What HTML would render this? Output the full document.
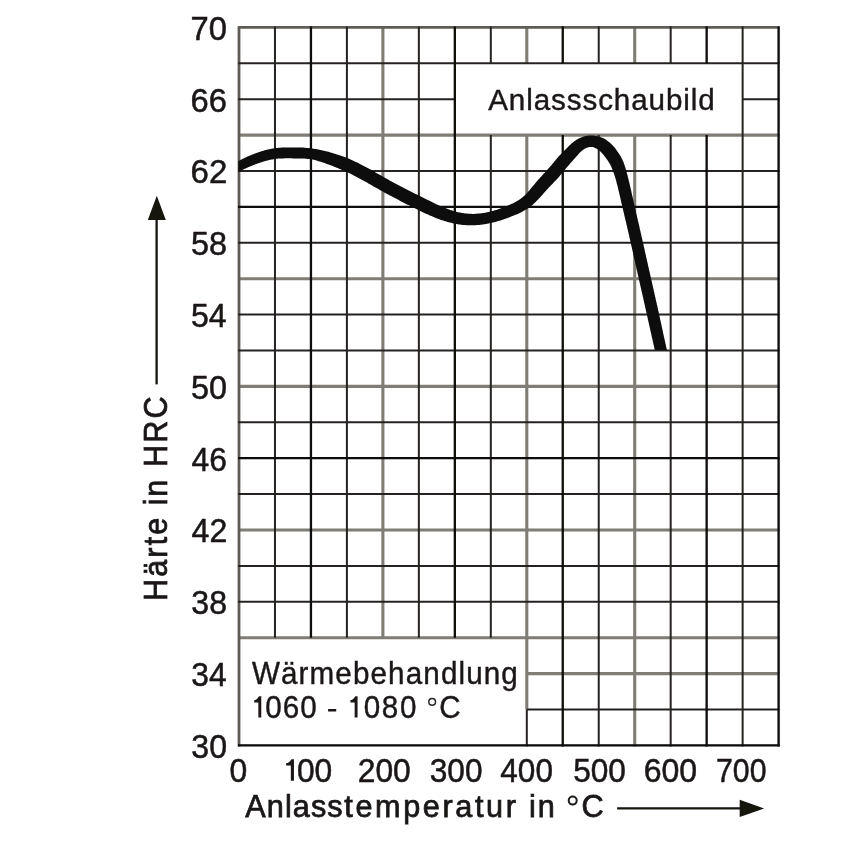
<!DOCTYPE html>
<html><head><meta charset="utf-8"><title>Anlassschaubild</title>
<style>
html,body{margin:0;padding:0;background:#fff;}
body{width:861px;height:865px;overflow:hidden;}
svg{display:block;}
text{font-family:"Liberation Sans",sans-serif;fill:#1a1716;stroke:#1a1716;}
</style></head><body>
<svg width="861" height="865" viewBox="0 0 861 865">
<defs><filter id="soft" x="0" y="0" width="861" height="865" filterUnits="userSpaceOnUse"><feGaussianBlur stdDeviation="0.55"/></filter></defs>
<rect width="861" height="865" fill="#fff"/>
<g filter="url(#soft)">
<g id="grid">
<line x1="382.89" y1="26.40" x2="382.89" y2="637.70" stroke="#7f7d75" stroke-width="3.1"/>
<line x1="526.79" y1="26.40" x2="526.79" y2="63.30" stroke="#7f7d75" stroke-width="3.1"/>
<line x1="526.79" y1="135.10" x2="526.79" y2="709.50" stroke="#7f7d75" stroke-width="3.1"/>
<line x1="634.71" y1="26.40" x2="634.71" y2="63.30" stroke="#7f7d75" stroke-width="3.1"/>
<line x1="634.71" y1="135.10" x2="634.71" y2="746.40" stroke="#7f7d75" stroke-width="3.1"/>
<line x1="238.00" y1="135.10" x2="779.60" y2="135.10" stroke="#7f7d75" stroke-width="3.1"/>
<line x1="238.00" y1="278.70" x2="779.60" y2="278.70" stroke="#7f7d75" stroke-width="3.1"/>
<line x1="238.00" y1="386.40" x2="779.60" y2="386.40" stroke="#7f7d75" stroke-width="3.1"/>
<line x1="238.00" y1="530.00" x2="779.60" y2="530.00" stroke="#7f7d75" stroke-width="3.1"/>
<line x1="238.00" y1="637.70" x2="779.60" y2="637.70" stroke="#7f7d75" stroke-width="3.1"/>
<line x1="526.79" y1="673.60" x2="779.60" y2="673.60" stroke="#7f7d75" stroke-width="3.1"/>
<line x1="239.00" y1="26.40" x2="239.00" y2="746.40" stroke="#5e5c55" stroke-width="2.8"/>
<line x1="238.00" y1="27.40" x2="779.60" y2="27.40" stroke="#5e5c55" stroke-width="2.8"/>
<line x1="274.97" y1="26.40" x2="274.97" y2="637.70" stroke="#262321" stroke-width="2.0"/>
<line x1="346.92" y1="26.40" x2="346.92" y2="637.70" stroke="#262321" stroke-width="2.0"/>
<line x1="418.87" y1="26.40" x2="418.87" y2="637.70" stroke="#262321" stroke-width="2.0"/>
<line x1="490.81" y1="26.40" x2="490.81" y2="63.30" stroke="#262321" stroke-width="2.0"/>
<line x1="490.81" y1="135.10" x2="490.81" y2="637.70" stroke="#262321" stroke-width="2.0"/>
<line x1="526.79" y1="709.50" x2="526.79" y2="746.40" stroke="#262321" stroke-width="2.0"/>
<line x1="598.73" y1="26.40" x2="598.73" y2="63.30" stroke="#262321" stroke-width="2.0"/>
<line x1="598.73" y1="135.10" x2="598.73" y2="746.40" stroke="#262321" stroke-width="2.0"/>
<line x1="670.68" y1="26.40" x2="670.68" y2="63.30" stroke="#262321" stroke-width="2.0"/>
<line x1="670.68" y1="135.10" x2="670.68" y2="746.40" stroke="#262321" stroke-width="2.0"/>
<line x1="742.63" y1="26.40" x2="742.63" y2="746.40" stroke="#262321" stroke-width="2.0"/>
<line x1="238.00" y1="63.30" x2="779.60" y2="63.30" stroke="#262321" stroke-width="2.0"/>
<line x1="238.00" y1="99.20" x2="454.84" y2="99.20" stroke="#262321" stroke-width="2.0"/>
<line x1="742.63" y1="99.20" x2="779.60" y2="99.20" stroke="#262321" stroke-width="2.0"/>
<line x1="238.00" y1="171.00" x2="779.60" y2="171.00" stroke="#262321" stroke-width="2.0"/>
<line x1="238.00" y1="242.80" x2="779.60" y2="242.80" stroke="#262321" stroke-width="2.0"/>
<line x1="238.00" y1="314.60" x2="779.60" y2="314.60" stroke="#262321" stroke-width="2.0"/>
<line x1="238.00" y1="350.50" x2="779.60" y2="350.50" stroke="#262321" stroke-width="2.0"/>
<line x1="238.00" y1="422.30" x2="779.60" y2="422.30" stroke="#262321" stroke-width="2.0"/>
<line x1="238.00" y1="494.10" x2="779.60" y2="494.10" stroke="#262321" stroke-width="2.0"/>
<line x1="238.00" y1="565.90" x2="779.60" y2="565.90" stroke="#262321" stroke-width="2.0"/>
<line x1="238.00" y1="601.80" x2="779.60" y2="601.80" stroke="#262321" stroke-width="2.0"/>
<line x1="526.79" y1="709.50" x2="779.60" y2="709.50" stroke="#262321" stroke-width="2.0"/>
<line x1="310.95" y1="26.40" x2="310.95" y2="637.70" stroke="#090807" stroke-width="2.3"/>
<line x1="454.84" y1="26.40" x2="454.84" y2="637.70" stroke="#090807" stroke-width="2.3"/>
<line x1="562.76" y1="26.40" x2="562.76" y2="63.30" stroke="#090807" stroke-width="2.3"/>
<line x1="562.76" y1="135.10" x2="562.76" y2="746.40" stroke="#090807" stroke-width="2.3"/>
<line x1="706.65" y1="26.40" x2="706.65" y2="63.30" stroke="#090807" stroke-width="2.3"/>
<line x1="706.65" y1="135.10" x2="706.65" y2="746.40" stroke="#090807" stroke-width="2.3"/>
<line x1="778.60" y1="26.40" x2="778.60" y2="746.40" stroke="#090807" stroke-width="2.3"/>
<line x1="238.00" y1="206.90" x2="779.60" y2="206.90" stroke="#090807" stroke-width="2.3"/>
<line x1="238.00" y1="458.20" x2="779.60" y2="458.20" stroke="#090807" stroke-width="2.3"/>
<line x1="238.00" y1="745.40" x2="779.60" y2="745.40" stroke="#090807" stroke-width="2.3"/>
</g>
<g id="boxes"></g>
<g id="curve"><clipPath id="cc"><rect x="238.40" y="27.40" width="539.60" height="322.50"/></clipPath>
<polygon clip-path="url(#cc)" points="230.2,176.0 231.2,175.5 232.2,175.0 233.1,174.5 234.1,174.0 235.1,173.5 236.0,173.0 237.0,172.6 238.0,172.1 238.9,171.6 239.9,171.1 240.8,170.6 241.8,170.2 242.8,169.7 243.7,169.3 244.7,168.8 245.7,168.4 246.6,167.9 247.6,167.5 248.6,167.1 249.5,166.7 250.5,166.3 251.5,165.9 252.5,165.5 253.5,165.1 254.5,164.7 255.4,164.3 256.4,164.0 257.4,163.6 258.4,163.3 259.4,162.9 260.4,162.6 261.4,162.2 262.4,161.9 263.4,161.6 264.4,161.3 265.4,161.0 266.4,160.8 267.4,160.5 268.4,160.3 269.4,160.0 270.4,159.8 271.4,159.6 272.4,159.4 273.4,159.2 274.3,159.1 275.3,159.0 276.3,158.8 277.3,158.7 278.3,158.6 279.3,158.6 280.3,158.5 281.4,158.4 282.4,158.4 283.4,158.4 284.5,158.3 285.5,158.3 286.6,158.3 287.7,158.3 288.7,158.3 289.8,158.3 290.9,158.3 292.0,158.3 293.1,158.4 294.2,158.4 295.3,158.4 296.3,158.4 297.4,158.4 298.5,158.4 299.6,158.4 300.6,158.5 301.7,158.5 302.7,158.5 303.7,158.6 304.8,158.6 305.8,158.7 306.8,158.8 307.8,158.9 308.8,159.0 309.8,159.1 310.8,159.3 311.8,159.4 312.8,159.6 313.8,159.8 314.8,160.1 315.8,160.3 316.7,160.6 317.7,160.9 318.7,161.2 319.7,161.5 320.7,161.8 321.7,162.1 322.7,162.5 323.7,162.8 324.7,163.1 325.7,163.5 326.7,163.9 327.7,164.2 328.7,164.6 329.7,165.0 330.7,165.3 331.7,165.7 332.7,166.1 333.7,166.5 334.7,166.9 335.7,167.3 336.7,167.7 337.6,168.1 338.6,168.5 339.6,168.9 340.5,169.3 341.5,169.7 342.5,170.1 343.4,170.5 344.4,170.9 345.3,171.4 346.3,171.8 347.2,172.2 348.2,172.7 349.1,173.1 350.1,173.6 351.0,174.0 352.0,174.5 352.9,175.0 353.8,175.5 354.8,176.0 355.7,176.4 356.7,176.9 357.6,177.4 358.5,177.9 359.5,178.5 360.4,179.0 361.4,179.5 362.3,180.0 363.2,180.5 364.2,181.0 365.1,181.6 366.1,182.1 367.0,182.6 368.0,183.2 368.9,183.7 369.9,184.3 370.8,184.8 371.7,185.3 372.7,185.9 373.6,186.4 374.6,187.0 375.6,187.5 376.5,188.1 377.5,188.6 378.4,189.1 379.4,189.7 380.4,190.2 381.3,190.8 382.3,191.3 383.3,191.8 384.2,192.4 385.2,192.9 386.2,193.4 387.1,194.0 388.1,194.5 389.1,195.0 390.0,195.5 391.0,196.0 392.0,196.6 393.0,197.1 393.9,197.6 394.9,198.1 395.9,198.6 396.9,199.1 397.8,199.6 398.8,200.1 399.8,200.7 400.8,201.2 401.7,201.7 402.7,202.2 403.7,202.7 404.7,203.2 405.6,203.7 406.6,204.2 407.6,204.7 408.6,205.1 409.6,205.6 410.5,206.1 411.5,206.6 412.5,207.1 413.5,207.6 414.4,208.1 415.4,208.6 416.4,209.1 417.4,209.6 418.4,210.1 419.4,210.5 420.3,211.0 421.3,211.5 422.3,212.0 423.3,212.4 424.3,212.9 425.4,213.4 426.4,213.9 427.4,214.3 428.4,214.8 429.4,215.2 430.5,215.7 431.5,216.1 432.5,216.6 433.6,217.0 434.6,217.4 435.7,217.9 436.7,218.3 437.8,218.7 438.9,219.1 439.9,219.5 441.0,219.9 442.1,220.2 443.2,220.6 444.3,220.9 445.4,221.3 446.5,221.6 447.6,221.9 448.7,222.3 449.9,222.5 451.0,222.8 452.1,223.1 453.3,223.4 454.4,223.6 455.6,223.8 456.7,224.1 457.9,224.3 459.1,224.4 460.2,224.6 461.4,224.8 462.6,224.9 463.7,225.0 464.9,225.1 466.1,225.2 467.3,225.3 468.5,225.3 469.6,225.3 470.8,225.3 472.0,225.3 473.2,225.3 474.4,225.3 475.5,225.2 476.7,225.1 477.9,225.0 479.1,224.9 480.2,224.8 481.4,224.7 482.6,224.5 483.7,224.3 484.9,224.2 486.0,224.0 487.2,223.8 488.3,223.5 489.4,223.3 490.6,223.1 491.7,222.8 492.8,222.5 493.9,222.2 495.0,222.0 496.1,221.7 497.2,221.3 498.3,221.0 499.4,220.7 500.5,220.4 501.6,220.0 502.7,219.7 503.8,219.3 504.8,218.9 505.9,218.5 507.0,218.2 508.0,217.8 509.1,217.4 510.2,217.0 511.2,216.6 512.3,216.1 513.3,215.7 514.4,215.3 515.5,214.8 516.5,214.4 517.6,213.9 518.7,213.4 519.8,212.9 520.8,212.4 521.9,211.9 522.9,211.3 524.0,210.7 525.0,210.1 526.1,209.5 527.1,208.9 528.1,208.2 529.1,207.5 530.1,206.8 531.1,206.0 532.1,205.2 533.0,204.4 533.9,203.6 534.8,202.8 535.7,202.0 536.5,201.1 537.3,200.3 538.1,199.5 538.9,198.6 539.7,197.8 540.5,196.9 541.2,196.1 542.0,195.2 542.7,194.4 543.4,193.6 544.1,192.8 544.8,192.0 545.5,191.2 546.2,190.4 546.9,189.6 547.7,188.9 548.4,188.1 549.1,187.3 549.9,186.5 550.6,185.8 551.3,185.0 552.1,184.2 552.9,183.4 553.6,182.6 554.4,181.8 555.1,181.0 555.9,180.2 556.7,179.4 557.4,178.6 558.2,177.7 558.9,176.9 559.7,176.0 560.4,175.1 561.2,174.3 561.9,173.4 562.6,172.5 563.3,171.7 564.0,170.8 564.7,170.0 565.4,169.2 566.0,168.3 566.7,167.5 567.4,166.8 568.0,166.0 568.7,165.2 569.4,164.4 570.1,163.6 570.8,162.8 571.5,162.0 572.2,161.2 572.9,160.4 573.7,159.6 574.4,158.8 575.1,157.9 575.9,157.1 576.6,156.3 577.3,155.5 578.0,154.7 578.6,154.0 579.3,153.2 579.9,152.6 580.6,151.9 581.3,151.3 581.9,150.7 582.6,150.2 583.3,149.7 584.0,149.2 584.7,148.8 585.4,148.4 586.1,148.0 586.9,147.7 587.6,147.4 588.4,147.2 589.1,147.0 589.8,146.9 590.5,146.9 591.2,146.9 592.0,147.0 592.7,147.1 593.5,147.3 594.2,147.6 594.9,147.9 595.7,148.3 596.4,148.6 597.1,149.1 597.8,149.5 598.5,150.0 599.1,150.4 599.8,151.0 600.4,151.5 601.0,152.1 601.6,152.7 602.2,153.4 602.8,154.0 603.4,154.8 604.0,155.5 604.6,156.2 605.2,157.0 605.8,157.8 606.4,158.7 607.0,159.5 607.5,160.3 608.1,161.1 608.6,161.9 609.1,162.7 609.6,163.5 610.0,164.3 610.5,165.1 610.9,166.0 611.3,166.8 611.7,167.7 612.0,168.6 612.4,169.5 612.8,170.4 613.1,171.4 613.5,172.3 613.8,173.3 614.1,174.3 614.5,175.3 614.8,176.3 615.1,177.3 615.4,178.3 615.7,179.3 616.0,180.3 616.3,181.3 616.6,182.4 616.8,183.4 617.1,184.5 617.4,185.5 617.6,186.5 617.9,187.6 618.1,188.6 618.4,189.7 618.6,190.7 618.9,191.8 619.1,192.8 619.4,193.9 619.6,195.0 619.9,196.0 620.1,197.1 620.4,198.1 620.6,199.2 620.8,200.3 621.1,201.3 621.3,202.4 621.6,203.4 621.8,204.5 622.1,205.6 622.3,206.6 622.6,207.7 622.8,208.8 623.1,209.8 623.3,210.9 623.6,212.0 623.8,213.0 624.1,214.1 624.3,215.2 624.6,216.2 624.8,217.3 625.1,218.4 625.3,219.4 625.6,220.5 625.8,221.5 626.1,222.6 626.3,223.7 626.6,224.7 626.8,225.8 627.1,226.8 627.3,227.9 627.6,229.0 627.8,230.0 628.0,231.1 628.3,232.1 628.5,233.2 628.8,234.3 629.0,235.3 629.3,236.4 629.5,237.5 629.7,238.5 630.0,239.6 630.2,240.6 630.5,241.7 630.7,242.8 630.9,243.8 631.2,244.9 631.4,246.0 631.7,247.0 631.9,248.1 632.1,249.1 632.4,250.2 632.6,251.3 632.9,252.3 633.1,253.4 633.3,254.5 633.6,255.5 633.8,256.6 634.0,257.7 634.3,258.7 634.5,259.8 634.8,260.9 635.0,261.9 635.2,263.0 635.5,264.1 635.7,265.1 636.0,266.2 636.2,267.2 636.4,268.3 636.7,269.4 636.9,270.4 637.2,271.5 637.4,272.6 637.6,273.6 637.9,274.7 638.1,275.8 638.4,276.8 638.6,277.9 638.8,279.0 639.1,280.0 639.3,281.1 639.6,282.2 639.8,283.2 640.0,284.3 640.3,285.3 640.5,286.4 640.8,287.5 641.0,288.5 641.2,289.6 641.5,290.7 641.7,291.7 642.0,292.8 642.2,293.9 642.5,294.9 642.7,296.0 642.9,297.1 643.2,298.1 643.4,299.2 643.7,300.2 643.9,301.3 644.1,302.4 644.4,303.4 644.6,304.5 644.9,305.6 645.1,306.6 645.3,307.7 645.6,308.7 645.8,309.8 646.0,310.9 646.3,311.9 646.5,313.0 646.8,314.1 647.0,315.1 647.2,316.2 647.5,317.3 647.7,318.3 647.9,319.4 648.2,320.4 648.4,321.5 648.6,322.6 648.9,323.6 649.1,324.7 649.4,325.8 649.6,326.8 649.8,327.9 650.1,329.0 650.3,330.0 650.5,331.1 650.8,332.1 651.0,333.2 651.3,334.3 651.5,335.3 651.7,336.4 652.0,337.5 652.2,338.5 652.5,339.6 652.7,340.7 652.9,341.7 653.2,342.8 653.4,343.9 653.7,344.9 653.9,346.0 654.1,347.1 654.4,348.1 654.6,349.2 654.9,350.3 655.1,351.3 655.3,352.4 655.6,353.5 655.8,354.5 656.1,355.6 656.3,356.7 656.6,357.7 656.8,358.8 657.0,359.9 657.3,360.9 657.5,362.0 657.8,363.1 658.0,364.1 658.3,365.2 658.5,366.3 658.7,367.3 670.3,364.7 670.0,363.6 669.8,362.6 669.5,361.5 669.3,360.4 669.0,359.4 668.8,358.3 668.5,357.2 668.3,356.2 668.1,355.1 667.8,354.1 667.6,353.0 667.3,351.9 667.1,350.9 666.9,349.8 666.6,348.7 666.4,347.7 666.1,346.6 665.9,345.6 665.7,344.5 665.4,343.4 665.2,342.4 665.0,341.3 664.7,340.2 664.5,339.2 664.3,338.1 664.0,337.1 663.8,336.0 663.6,334.9 663.3,333.9 663.1,332.8 662.9,331.7 662.7,330.7 662.4,329.6 662.2,328.5 662.0,327.5 661.7,326.4 661.5,325.3 661.3,324.3 661.0,323.2 660.8,322.1 660.6,321.1 660.3,320.0 660.1,318.9 659.9,317.9 659.6,316.8 659.4,315.7 659.2,314.7 658.9,313.6 658.7,312.5 658.5,311.5 658.2,310.4 658.0,309.3 657.8,308.3 657.5,307.2 657.3,306.1 657.0,305.1 656.8,304.0 656.6,302.9 656.3,301.9 656.1,300.8 655.8,299.7 655.6,298.7 655.4,297.6 655.1,296.5 654.9,295.5 654.6,294.4 654.4,293.3 654.2,292.3 653.9,291.2 653.7,290.1 653.4,289.1 653.2,288.0 653.0,287.0 652.7,285.9 652.5,284.8 652.2,283.8 652.0,282.7 651.7,281.6 651.5,280.6 651.3,279.5 651.0,278.4 650.8,277.4 650.5,276.3 650.3,275.3 650.1,274.2 649.8,273.1 649.6,272.1 649.3,271.0 649.1,269.9 648.9,268.9 648.6,267.8 648.4,266.7 648.1,265.7 647.9,264.6 647.7,263.5 647.4,262.5 647.2,261.4 647.0,260.4 646.7,259.3 646.5,258.2 646.2,257.2 646.0,256.1 645.8,255.0 645.5,254.0 645.3,252.9 645.0,251.8 644.8,250.8 644.6,249.7 644.3,248.6 644.1,247.6 643.8,246.5 643.6,245.5 643.4,244.4 643.1,243.3 642.9,242.3 642.6,241.2 642.4,240.1 642.2,239.1 641.9,238.0 641.7,236.9 641.4,235.9 641.2,234.8 641.0,233.7 640.7,232.7 640.5,231.6 640.2,230.5 640.0,229.5 639.7,228.4 639.5,227.3 639.3,226.3 639.0,225.2 638.8,224.1 638.5,223.1 638.3,222.0 638.0,220.9 637.8,219.9 637.5,218.8 637.3,217.7 637.0,216.7 636.8,215.6 636.5,214.6 636.3,213.5 636.0,212.4 635.8,211.4 635.6,210.3 635.3,209.2 635.1,208.2 634.8,207.1 634.6,206.1 634.4,205.0 634.1,204.0 633.9,202.9 633.6,201.8 633.4,200.8 633.2,199.7 632.9,198.6 632.7,197.6 632.5,196.5 632.2,195.4 632.0,194.4 631.7,193.3 631.5,192.2 631.3,191.2 631.0,190.1 630.8,189.0 630.5,188.0 630.3,186.9 630.0,185.8 629.8,184.7 629.5,183.7 629.3,182.6 629.0,181.5 628.7,180.4 628.5,179.3 628.2,178.3 627.9,177.2 627.7,176.1 627.4,175.0 627.1,173.9 626.8,172.8 626.5,171.7 626.2,170.6 625.9,169.5 625.6,168.4 625.2,167.3 624.9,166.2 624.5,165.0 624.1,163.9 623.7,162.8 623.2,161.6 622.7,160.5 622.2,159.3 621.6,158.2 621.0,157.1 620.4,156.0 619.8,155.0 619.2,153.9 618.5,152.9 617.8,151.9 617.1,151.0 616.4,150.0 615.7,149.0 615.0,148.1 614.2,147.1 613.3,146.2 612.5,145.3 611.6,144.3 610.7,143.4 609.7,142.6 608.6,141.7 607.6,140.9 606.4,140.1 605.3,139.3 604.1,138.6 602.8,138.0 601.5,137.5 600.2,137.0 598.8,136.5 597.4,136.2 596.0,135.9 594.6,135.7 593.1,135.5 591.7,135.5 590.2,135.5 588.7,135.6 587.3,135.8 585.9,136.0 584.5,136.3 583.1,136.7 581.8,137.2 580.5,137.7 579.2,138.3 578.0,138.9 576.8,139.6 575.6,140.4 574.5,141.1 573.5,141.9 572.5,142.7 571.5,143.6 570.6,144.4 569.7,145.2 568.9,146.0 568.1,146.8 567.3,147.7 566.5,148.4 565.7,149.2 565.0,150.0 564.2,150.8 563.5,151.5 562.7,152.3 561.9,153.1 561.1,153.9 560.4,154.7 559.6,155.5 558.8,156.3 558.1,157.2 557.3,158.1 556.5,158.9 555.8,159.8 555.1,160.7 554.4,161.5 553.7,162.4 553.0,163.2 552.3,164.0 551.6,164.9 550.9,165.7 550.2,166.5 549.6,167.2 548.9,168.0 548.2,168.8 547.5,169.6 546.8,170.4 546.1,171.2 545.4,171.9 544.7,172.7 543.9,173.5 543.2,174.3 542.5,175.1 541.7,175.9 541.0,176.7 540.2,177.6 539.5,178.4 538.7,179.2 538.0,180.1 537.2,180.9 536.5,181.8 535.7,182.7 535.0,183.5 534.3,184.4 533.6,185.3 532.9,186.1 532.2,187.0 531.5,187.8 530.8,188.6 530.1,189.4 529.5,190.2 528.8,191.0 528.1,191.8 527.5,192.5 526.8,193.3 526.1,194.0 525.4,194.7 524.8,195.3 524.1,196.0 523.4,196.6 522.7,197.2 521.9,197.8 521.2,198.3 520.4,198.9 519.6,199.4 518.8,200.0 518.0,200.5 517.2,201.0 516.3,201.5 515.4,202.0 514.5,202.5 513.6,202.9 512.7,203.4 511.8,203.8 510.8,204.3 509.9,204.7 508.9,205.1 507.9,205.6 507.0,206.0 506.0,206.4 505.0,206.8 504.0,207.2 503.0,207.5 502.0,207.9 501.0,208.3 500.1,208.6 499.1,209.0 498.1,209.3 497.1,209.7 496.1,210.0 495.1,210.3 494.1,210.6 493.1,210.9 492.1,211.1 491.1,211.4 490.1,211.6 489.1,211.9 488.1,212.1 487.1,212.3 486.1,212.5 485.1,212.7 484.1,212.9 483.1,213.1 482.1,213.2 481.1,213.3 480.1,213.4 479.0,213.6 478.0,213.6 477.0,213.7 476.0,213.8 475.0,213.8 474.0,213.9 473.0,213.9 472.0,213.9 471.0,213.8 470.0,213.8 469.0,213.8 468.0,213.7 467.0,213.6 466.0,213.5 465.0,213.4 464.0,213.3 463.0,213.1 462.0,213.0 461.0,212.8 460.0,212.6 459.0,212.4 458.0,212.2 457.0,211.9 456.1,211.7 455.1,211.4 454.1,211.1 453.1,210.9 452.2,210.5 451.2,210.2 450.2,209.9 449.3,209.6 448.3,209.2 447.3,208.8 446.4,208.5 445.4,208.1 444.4,207.7 443.5,207.3 442.5,206.9 441.5,206.5 440.6,206.1 439.6,205.7 438.6,205.2 437.7,204.8 436.7,204.4 435.8,203.9 434.8,203.5 433.8,203.0 432.9,202.5 431.9,202.1 431.0,201.6 430.0,201.1 429.1,200.6 428.1,200.2 427.1,199.7 426.2,199.2 425.2,198.7 424.2,198.2 423.3,197.8 422.3,197.3 421.3,196.8 420.3,196.3 419.4,195.8 418.4,195.3 417.4,194.8 416.5,194.3 415.5,193.9 414.5,193.4 413.5,192.9 412.6,192.4 411.6,191.9 410.6,191.4 409.7,190.9 408.7,190.4 407.7,189.9 406.8,189.4 405.8,188.9 404.9,188.5 403.9,188.0 402.9,187.5 402.0,187.0 401.0,186.5 400.1,186.0 399.1,185.5 398.1,185.0 397.2,184.4 396.2,183.9 395.3,183.4 394.3,182.9 393.4,182.4 392.4,181.9 391.5,181.4 390.5,180.9 389.6,180.4 388.6,179.8 387.7,179.3 386.7,178.8 385.8,178.3 384.9,177.7 383.9,177.2 383.0,176.7 382.0,176.1 381.1,175.6 380.1,175.1 379.2,174.5 378.2,174.0 377.3,173.4 376.3,172.9 375.4,172.4 374.4,171.8 373.5,171.3 372.5,170.7 371.5,170.2 370.6,169.6 369.6,169.1 368.6,168.6 367.7,168.0 366.7,167.5 365.7,167.0 364.7,166.4 363.7,165.9 362.8,165.4 361.8,164.9 360.8,164.4 359.8,163.9 358.8,163.3 357.8,162.8 356.8,162.3 355.7,161.9 354.7,161.4 353.7,160.9 352.7,160.4 351.6,159.9 350.6,159.5 349.6,159.0 348.5,158.6 347.5,158.2 346.4,157.7 345.4,157.3 344.3,156.9 343.2,156.5 342.2,156.2 341.1,155.8 340.0,155.4 339.0,155.1 337.9,154.7 336.8,154.4 335.8,154.1 334.7,153.7 333.6,153.4 332.5,153.1 331.5,152.8 330.4,152.5 329.3,152.1 328.2,151.8 327.1,151.6 326.0,151.3 324.9,151.0 323.8,150.7 322.7,150.5 321.6,150.2 320.5,150.0 319.3,149.7 318.2,149.5 317.1,149.3 315.9,149.1 314.8,148.9 313.6,148.7 312.4,148.5 311.3,148.3 310.1,148.2 309.0,148.1 307.8,147.9 306.6,147.9 305.5,147.8 304.3,147.7 303.2,147.6 302.1,147.6 300.9,147.6 299.8,147.5 298.7,147.5 297.6,147.5 296.5,147.5 295.3,147.5 294.2,147.5 293.1,147.5 292.1,147.4 290.9,147.4 289.8,147.4 288.7,147.4 287.6,147.4 286.5,147.5 285.4,147.5 284.2,147.5 283.1,147.5 281.9,147.6 280.8,147.7 279.6,147.7 278.5,147.8 277.3,147.9 276.2,148.1 275.0,148.2 273.8,148.4 272.7,148.5 271.5,148.8 270.4,149.0 269.2,149.2 268.1,149.5 266.9,149.7 265.8,150.0 264.7,150.3 263.6,150.7 262.5,151.0 261.4,151.3 260.3,151.7 259.2,152.0 258.1,152.4 257.0,152.8 255.9,153.2 254.9,153.6 253.8,154.0 252.8,154.4 251.7,154.8 250.7,155.3 249.6,155.7 248.6,156.1 247.6,156.6 246.5,157.0 245.5,157.5 244.5,158.0 243.5,158.5 242.5,158.9 241.5,159.4 240.5,159.9 239.5,160.4 238.5,160.9 237.5,161.4 236.5,161.9 235.5,162.4 234.5,162.9 233.5,163.4 232.5,163.9 231.6,164.5 230.6,165.0 229.6,165.5 228.6,166.0 227.7,166.5 226.7,167.0 225.8,167.6" fill="#0c0a09"/></g>
<g id="texts">
<text transform="translate(488.15,109.70) scale(1.0000,1.0)" font-size="29.6" letter-spacing="0.911" stroke-width="0.4">Anlassschaubild</text>
<text transform="translate(251.95,684.20) scale(1.0000,1.06)" font-size="29.6" letter-spacing="1.125" stroke-width="0.4">Wärmebehandlung</text>
<text transform="translate(265.36,718.00) scale(1.0000,1.06)" font-size="29.6" letter-spacing="0.936" stroke-width="0.4">060</text>
<text transform="translate(363.76,718.00) scale(1.0000,1.06)" font-size="29.6" letter-spacing="1.636" stroke-width="0.4">080</text>
<text transform="translate(439.17,718.00) scale(0.9977,1.06)" font-size="29.6" letter-spacing="0.000" stroke-width="0.4">C</text>
<text transform="translate(245.25,817.20) scale(1.0000,1.0)" font-size="30.6" letter-spacing="1.115" stroke-width="0.75">Anlass</text>
<text transform="translate(344.24,817.20) scale(1.0000,1.0)" font-size="30.6" letter-spacing="2.638" stroke-width="0.75">temperatur</text>
<text transform="translate(529.01,817.20) scale(1.0000,1.0)" font-size="30.6" letter-spacing="1.838" stroke-width="0.75">in</text>
<text transform="translate(581.61,817.20) scale(1.0059,1.0)" font-size="30.6" letter-spacing="0.000" stroke-width="0.75">C</text>
<text transform="translate(167.20,598.90) rotate(-90) translate(-2.00,0) scale(1.0000,1.11)" font-size="30.6" letter-spacing="2.082" stroke-width="0.7">Härte</text>
<text transform="translate(167.20,598.90) rotate(-90) translate(93.71,0) scale(1.0000,1.11)" font-size="30.6" letter-spacing="1.738" stroke-width="0.7">in</text>
<text transform="translate(167.20,598.90) rotate(-90) translate(132.00,0) scale(1.0000,1.11)" font-size="30.6" letter-spacing="2.119" stroke-width="0.7">HRC</text>
<text transform="translate(190.61,39.80) scale(1.0044,1.0)" font-size="32.6" letter-spacing="0.000" stroke-width="0.5">70</text>
<text transform="translate(190.61,111.60) scale(1.0044,1.0)" font-size="32.6" letter-spacing="0.000" stroke-width="0.5">66</text>
<text transform="translate(190.60,183.40) scale(1.0143,1.0)" font-size="32.6" letter-spacing="0.000" stroke-width="0.5">62</text>
<text transform="translate(190.95,255.20) scale(0.9947,1.0)" font-size="32.6" letter-spacing="0.000" stroke-width="0.5">58</text>
<text transform="translate(190.97,327.00) scale(0.9852,1.0)" font-size="32.6" letter-spacing="0.000" stroke-width="0.5">54</text>
<text transform="translate(190.95,398.80) scale(0.9947,1.0)" font-size="32.6" letter-spacing="0.000" stroke-width="0.5">50</text>
<text transform="translate(191.61,470.60) scale(0.9759,1.0)" font-size="32.6" letter-spacing="0.000" stroke-width="0.5">46</text>
<text transform="translate(191.61,542.40) scale(0.9852,1.0)" font-size="32.6" letter-spacing="0.000" stroke-width="0.5">42</text>
<text transform="translate(191.29,614.20) scale(0.9852,1.0)" font-size="32.6" letter-spacing="0.000" stroke-width="0.5">38</text>
<text transform="translate(191.30,686.00) scale(0.9759,1.0)" font-size="32.6" letter-spacing="0.000" stroke-width="0.5">34</text>
<text transform="translate(191.29,757.80) scale(0.9852,1.0)" font-size="32.6" letter-spacing="0.000" stroke-width="0.5">30</text>
<text transform="translate(229.49,781.50) scale(0.9766,1.0)" font-size="32.6" letter-spacing="0.000" stroke-width="0.5">0</text>
<text transform="translate(296.90,781.50) scale(0.9764,1.0)" font-size="32.6" letter-spacing="0.000" stroke-width="0.5">00</text>
<text transform="translate(357.76,781.50) scale(0.9751,1.0)" font-size="32.6" letter-spacing="0.000" stroke-width="0.5">200</text>
<text transform="translate(429.70,781.50) scale(0.9706,1.0)" font-size="32.6" letter-spacing="0.000" stroke-width="0.5">300</text>
<text transform="translate(500.32,781.50) scale(0.9684,1.0)" font-size="32.6" letter-spacing="0.000" stroke-width="0.5">400</text>
<text transform="translate(573.18,781.50) scale(0.9709,1.0)" font-size="32.6" letter-spacing="0.000" stroke-width="0.5">500</text>
<text transform="translate(643.65,781.50) scale(0.9829,1.0)" font-size="32.6" letter-spacing="0.000" stroke-width="0.5">600</text>
<text transform="translate(715.93,781.50) scale(0.9305,1.0)" font-size="32.6" letter-spacing="0.000" stroke-width="0.5">700</text>
<path d="M261.25,696.30 L261.25,717.45 L258.35,717.45 L258.35,702.54 L254.20,702.54 L254.20,700.21 C256.80,700.11 257.45,698.63 259.05,696.30 Z" fill="#1a1716"/>
<rect x="328.1" y="709.0" width="8.1" height="2.5" fill="#1a1716"/>
<path d="M357.55,696.30 L357.55,717.45 L354.65,717.45 L354.65,702.54 L350.40,702.54 L350.40,700.21 C353.00,700.11 353.75,698.63 355.35,696.30 Z" fill="#1a1716"/>
<circle cx="432.15" cy="701.85" r="3.35" fill="none" stroke="#2a2725" stroke-width="1.5"/>
<circle cx="572.7" cy="800.6" r="4.0" fill="none" stroke="#1f1c1a" stroke-width="2.0"/>
<path d="M293.95,759.20 L293.95,780.65 L290.85,780.65 L290.85,765.53 L286.10,765.53 L286.10,763.17 C288.70,763.06 289.95,761.56 291.55,759.20 Z" fill="#1a1716"/>
</g>
<g id="arrows" stroke="#141211" fill="#141211">
<line x1="617.1" y1="808.4" x2="745" y2="808.4" stroke-width="2.3"/>
<polygon points="739.7,799.8 764.1,808.4 739.7,817.0" stroke="none"/>
<line x1="156.6" y1="384.4" x2="156.6" y2="215" stroke-width="2.3"/>
<polygon points="147.8,220 156.8,195.8 165.8,220" stroke="none"/>
</g>
</g>
</svg>
</body></html>
